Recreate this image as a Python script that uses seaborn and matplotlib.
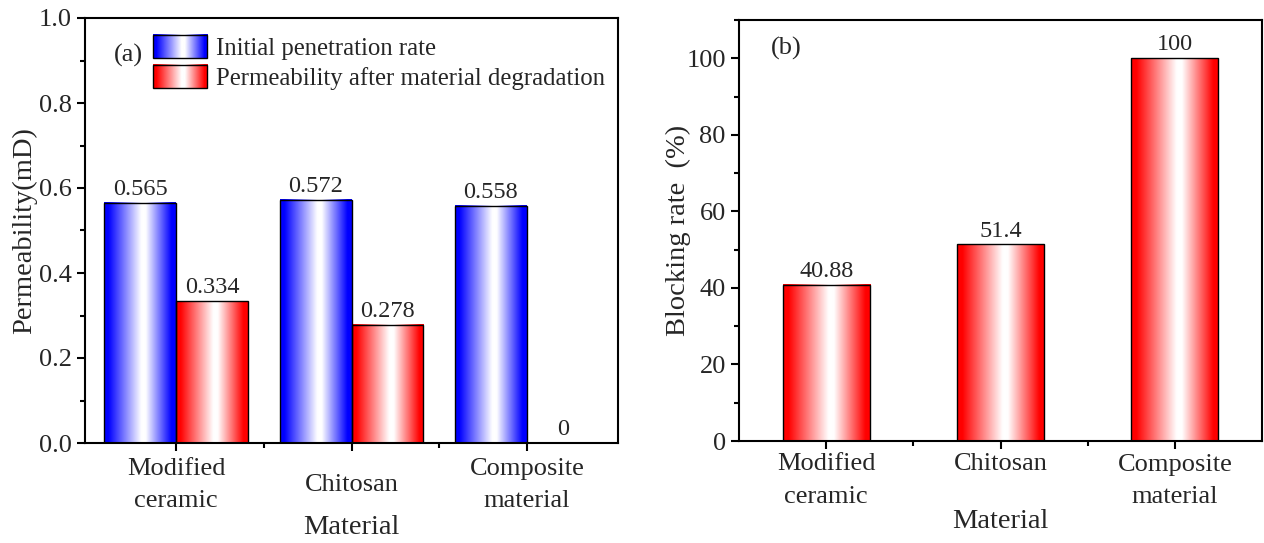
import numpy as np
import pandas as pd
import matplotlib
matplotlib.use("Agg")
import matplotlib.pyplot as plt
import seaborn as sns
from matplotlib.colors import LinearSegmentedColormap
from matplotlib.patches import Rectangle
from matplotlib.legend_handler import HandlerBase
from matplotlib.image import BboxImage
from matplotlib.transforms import Bbox, TransformedBbox
from matplotlib.ticker import MultipleLocator, FixedLocator, FormatStrFormatter

# ---- data ----
materials = ["Modified\nceramic", "Chitosan", "Composite\nmaterial"]
series_names = ["Initial penetration rate", "Permeability after material degradation"]
initial_perm = [0.565, 0.572, 0.558]
degraded_perm = [0.334, 0.278, 0.0]
blocking_rate = [40.88, 51.4, 100]

BLUE = "#0000ff"
RED = "#ff0000"

sns.set_style("ticks")
plt.rcParams["font.family"] = ["Liberation Serif", "DejaVu Serif"]
plt.rcParams["axes.linewidth"] = 1.5


def shaded_cmap(color):
    return LinearSegmentedColormap.from_list(
        "shade",
        [(0.0, color), (0.06, color), (0.52, "white"), (0.58, "white"),
         (0.94, color), (1.0, color)],
    )


GRAD = np.linspace(0, 1, 256)[None, :]
blue_cmap = shaded_cmap(BLUE)
red_cmap = shaded_cmap(RED)


def shade_bars(ax, container, cmap):
    for bar in container.patches:
        x0, y0 = bar.get_x(), bar.get_y()
        w, h = bar.get_width(), bar.get_height()
        bar.set_facecolor("none")
        bar.set_zorder(2)
        if h <= 0:
            bar.set_edgecolor("none")
            continue
        ax.imshow(GRAD, cmap=cmap, extent=(x0, x0 + w, y0, y0 + h),
                  aspect="auto", interpolation="bicubic", zorder=1.5,
                  vmin=0, vmax=1)


class GradientHandler(HandlerBase):
    def __init__(self, cmap):
        super().__init__()
        self.cmap = cmap

    def create_artists(self, legend, orig_handle, xdescent, ydescent,
                       width, height, fontsize, trans):
        bb = TransformedBbox(Bbox.from_bounds(-xdescent, -ydescent, width, height), trans)
        img = BboxImage(bb, cmap=self.cmap, interpolation="bicubic")
        img.set_data(GRAD)
        img.set_clim(0, 1)
        rect = Rectangle((-xdescent, -ydescent), width, height,
                         facecolor="none", edgecolor="black", lw=1,
                         transform=trans)
        return [img, rect]


def style_axis(ax):
    for s in ax.spines.values():
        s.set_linewidth(1.5)
        s.set_color("black")
    ax.tick_params(axis="both", which="major", direction="out", length=6,
                   width=1.5, labelsize=19, color="black")
    ax.tick_params(axis="both", which="minor", direction="out", length=3.5,
                   width=1.5, color="black")
    ax.tick_params(top=False, right=False, which="both")
    ax.xaxis.set_minor_locator(FixedLocator([0.5, 1.5]))


fig = plt.figure(figsize=(12.64, 5.43), dpi=100)
W, H = 1264, 543

# ---- panel (a): permeability ----
axa = fig.add_axes([85 / W, (H - 443) / H, 533 / W, 425 / H])
df_a = pd.DataFrame({
    "Material": materials * 2,
    "Series": [series_names[0]] * 3 + [series_names[1]] * 3,
    "Permeability": initial_perm + degraded_perm,
})
sns.barplot(data=df_a, x="Material", y="Permeability", hue="Series",
            order=materials, hue_order=series_names, palette=[BLUE, RED],
            width=0.82, edgecolor="black", linewidth=1, legend=False,
            errorbar=None, ax=axa)
for cont, cmap in zip(axa.containers, [blue_cmap, red_cmap]):
    shade_bars(axa, cont, cmap)
    axa.bar_label(cont, fmt="{:g}", padding=2, fontsize=17.5)

axa.set_xlim(-0.52, 2.52)
axa.set_ylim(0, 1.0)
axa.yaxis.set_major_locator(MultipleLocator(0.2))
axa.yaxis.set_minor_locator(MultipleLocator(0.1))
axa.yaxis.set_major_formatter(FormatStrFormatter("%.1f"))
style_axis(axa)
axa.tick_params(axis="x", which="major", pad=24)
for lbl in axa.get_xticklabels():
    lbl.set_va("center")
    lbl.set_multialignment("center")
    lbl.set_linespacing(1.6)

axa.set_ylabel("Permeability(mD)", fontsize=20.5)
axa.set_xlabel("Material", fontsize=20.5)
axa.yaxis.set_label_coords((25 - 85) / 533, 0.5)
axa.xaxis.set_label_coords(0.5, (443 - 527) / 425)
axa.xaxis.label.set_va("center")
axa.yaxis.label.set_va("center")

h1 = Rectangle((0, 0), 1, 1)
h2 = Rectangle((0, 0), 1, 1)
axa.legend([h1, h2], series_names,
           handler_map={h1: GradientHandler(blue_cmap), h2: GradientHandler(red_cmap)},
           loc="upper left", bbox_to_anchor=((153 - 85) / 533, (443 - 35) / 425),
           frameon=False, fontsize=17.8, borderpad=0, borderaxespad=0,
           handlelength=2.2, handleheight=1.07, labelspacing=0.2,
           handletextpad=0.33)
axa.text((128 - 85) / 533, (443 - 55) / 425, "(a)", fontsize=19,
         ha="center", va="center", transform=axa.transAxes)

# ---- panel (b): blocking rate ----
axb = fig.add_axes([739 / W, (H - 441) / H, 523 / W, 421 / H])
df_b = pd.DataFrame({"Material": materials, "Blocking rate": blocking_rate})
sns.barplot(data=df_b, x="Material", y="Blocking rate", order=materials,
            color=RED, width=0.5, edgecolor="black", linewidth=1,
            errorbar=None, ax=axb)
for cont in axb.containers:
    shade_bars(axb, cont, red_cmap)
    axb.bar_label(cont, fmt="{:g}", padding=2, fontsize=17.5)

axb.set_xlim(-0.5, 2.5)
axb.set_ylim(0, 110)
axb.yaxis.set_major_locator(MultipleLocator(20))
axb.yaxis.set_minor_locator(MultipleLocator(10))
style_axis(axb)
axb.tick_params(axis="x", which="major", pad=3)
for lbl in axb.get_xticklabels():
    lbl.set_multialignment("center")
    lbl.set_linespacing(1.6)

axb.set_ylabel("Blocking rate  (%)", fontsize=20.5)
axb.set_xlabel("Material", fontsize=20.5)
axb.yaxis.set_label_coords((678 - 739) / 523, 0.5)
axb.xaxis.set_label_coords(0.5, (441 - 521) / 421)
axb.xaxis.label.set_va("center")
axb.yaxis.label.set_va("center")
axb.text((786 - 739) / 523, (441 - 48) / 421, "(b)", fontsize=19,
         ha="center", va="center", transform=axb.transAxes)

fig.savefig("out.png", dpi=100)
